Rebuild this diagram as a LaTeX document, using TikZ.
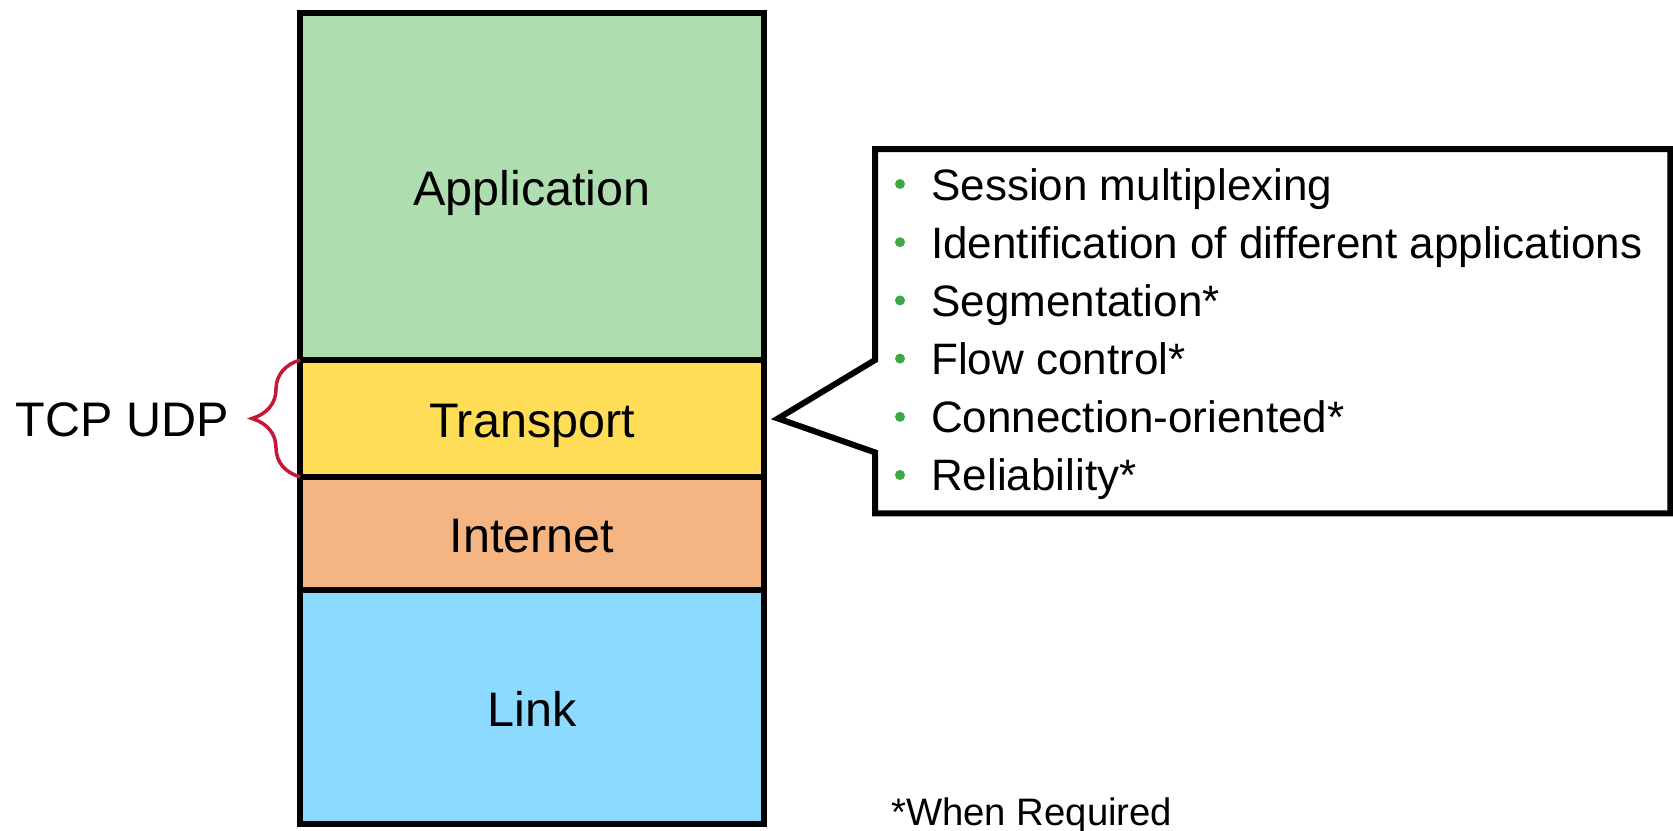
\documentclass[tikz,border=0pt]{standalone}
\usepackage{fontspec}
\setmainfont{Liberation Sans}
\usetikzlibrary{calc,positioning,decorations.pathreplacing}

\definecolor{appgreen}{RGB}{174,222,176}
\definecolor{transyellow}{RGB}{255,221,86}
\definecolor{netorange}{RGB}{245,181,130}
\definecolor{linkblue}{RGB}{140,218,255}
\definecolor{bracered}{RGB}{200,22,52}
\definecolor{dotgreen}{RGB}{60,168,70}

\begin{document}
\begin{tikzpicture}[x=1pt, y=-1pt,
    stacklayer/.style={draw, line width=6pt, minimum width=464pt, inner sep=0pt, outer sep=0pt,
        text height=38pt, text depth=0pt, font=\fontsize{48.5}{58}\selectfont},
    item/.style={inner sep=0pt, font=\fontsize{44}{52}\selectfont},
    dot/.style={circle, fill=dotgreen, inner sep=0pt, minimum size=10pt}
]
    \useasboundingbox (0,0) rectangle (1673,830);

    % the four layers
    \node[stacklayer, fill=appgreen, minimum height=347pt] (app) at (532,186.5) {Application};
    \node[stacklayer, fill=transyellow, minimum height=117pt, below=0pt of app] (transport) {Transport};
    \node[stacklayer, fill=netorange, minimum height=113pt, below=0pt of transport] (internet) {Internet};
    \node[stacklayer, fill=linkblue, minimum height=234pt, below=0pt of internet] (link) {Link};

    % protocols of the transport layer
    \draw[bracered, line width=3.5pt, decorate, decoration={brace, amplitude=48pt, aspect=0.5}]
        (transport.south west) -- (transport.north west);
    \node[anchor=base east, inner sep=0pt, font=\fontsize{48.5}{58}\selectfont] (proto)
        at ($(transport.west)+(-71,18)$) {TCP UDP};

    % callout with the services
    \node[anchor=north west, minimum width=795pt, minimum height=364pt, inner sep=0pt] (feat) at (875,149) {};
    \coordinate (tip) at ([xshift=14pt]transport.east);
    \draw[line width=6pt]
        (feat.north west) -- (feat.north east) -- (feat.south east) -- (feat.south west)
        -- ($(feat.south west)+(0,-61)$) -- (tip) -- ($(feat.north west)+(0,211)$) -- cycle;

    \foreach \txt [count=\i from 0] in {Session multiplexing,
            Identification of different applications, Segmentation*,
            Flow control*, Connection-oriented*, Reliability*} {
        \node[dot] (dot\i) at (900,{184+58.2*\i}) {};
        \node[item, anchor=base west] (item\i) at (931,{200+58*\i}) {\txt};
    }

    \node[anchor=base west, inner sep=0pt, font=\fontsize{38.3}{46}\selectfont] (note) at (891,825) {*When Required};
\end{tikzpicture}
\end{document}
